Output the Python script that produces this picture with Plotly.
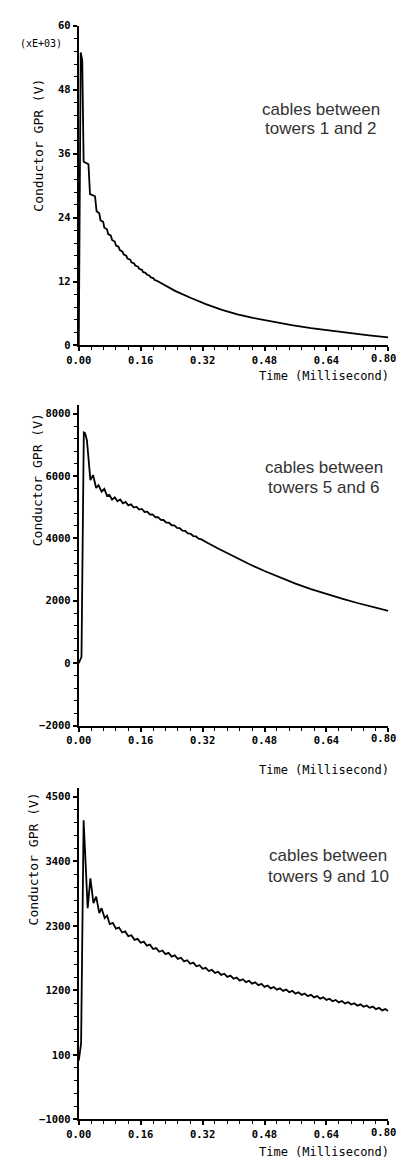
import plotly.graph_objects as go

W, H = 398, 1165

# ---------------- data ----------------
# Panel 1: cables between towers 1 and 2 (values in kV, axis shows xE+03)
t12 = [0, 0.003, 0.005, 0.009, 0.0125, 0.025, 0.029, 0.042, 0.046, 0.053, 0.056, 0.063,
       0.066, 0.073, 0.076, 0.083, 0.086, 0.093, 0.096, 0.103, 0.106, 0.113, 0.116, 0.123,
       0.126, 0.133, 0.136, 0.143, 0.146, 0.153, 0.156, 0.163, 0.166, 0.173, 0.176, 0.183,
       0.186, 0.193, 0.196, 0.203, 0.22, 0.25, 0.29, 0.33, 0.37, 0.41, 0.45, 0.50, 0.55,
       0.60, 0.65, 0.70, 0.75, 0.80]
v12_kV = [0, 25, 55, 53.5, 34.5, 34.0, 28.4, 28.0, 25.2, 24.8, 23.5, 23.2,
          22.1, 21.8, 20.9, 20.6, 19.8, 19.5, 18.8, 18.5, 17.9, 17.6, 17.1, 16.8,
          16.3, 16.1, 15.6, 15.4, 15.0, 14.8, 14.4, 14.2, 13.8, 13.6, 13.3, 13.1,
          12.8, 12.6, 12.3, 12.1, 11.4, 10.2, 8.9, 7.7, 6.7, 5.85, 5.18, 4.45, 3.82,
          3.27, 2.78, 2.33, 1.9, 1.5]

# Panel 2: cables between towers 5 and 6 (V)
t56 = [0, 0.007, 0.013, 0.016, 0.021, 0.030, 0.037, 0.045, 0.051, 0.059, 0.066, 0.073,
       0.079, 0.086, 0.093, 0.100, 0.107, 0.114, 0.121, 0.128, 0.135, 0.142, 0.149, 0.156,
       0.163, 0.170, 0.177, 0.184, 0.191, 0.198, 0.205, 0.212, 0.219, 0.226, 0.233, 0.240,
       0.247, 0.254, 0.261, 0.268, 0.275, 0.282, 0.289, 0.296, 0.303, 0.310, 0.317, 0.324,
       0.331, 0.36, 0.40, 0.44, 0.48, 0.52, 0.56, 0.60, 0.64, 0.68, 0.72, 0.76, 0.80]
v56 = [0, 200, 7400, 7380, 7150, 5870, 6030, 5620, 5710, 5500, 5590, 5365,
       5395, 5248, 5322, 5193, 5248, 5127, 5170, 5060, 5094, 4993, 5020, 4926,
       4948, 4850, 4860, 4765, 4771, 4680, 4682, 4596, 4593, 4510, 4505, 4424,
       4418, 4338, 4329, 4252, 4241, 4165, 4152, 4078, 4064, 3995, 3969, 3913,
       3873, 3680, 3420, 3180, 2955, 2745, 2550, 2375, 2215, 2068, 1930, 1800, 1680]

# Panel 3: cables between towers 9 and 10 (V)
t910 = [0, 0.006, 0.0125, 0.0175, 0.023, 0.030, 0.038, 0.045, 0.053, 0.059, 0.067, 0.073,
        0.080, 0.088, 0.096, 0.104, 0.112, 0.120, 0.128, 0.136, 0.144, 0.152,
        0.160, 0.168, 0.176, 0.184, 0.192, 0.200, 0.208, 0.216, 0.224, 0.232,
        0.240, 0.248, 0.256, 0.264, 0.272, 0.280, 0.288, 0.296, 0.304, 0.312,
        0.320, 0.328, 0.336, 0.344, 0.352, 0.360, 0.368, 0.376, 0.384, 0.392,
        0.400, 0.408, 0.416, 0.424, 0.432, 0.440, 0.448, 0.456, 0.464, 0.472,
        0.480, 0.488, 0.496, 0.504, 0.512, 0.520, 0.528, 0.536, 0.544, 0.552,
        0.560, 0.568, 0.576, 0.584, 0.592, 0.600, 0.608, 0.616, 0.624, 0.632,
        0.640, 0.648, 0.656, 0.664, 0.672, 0.680, 0.688, 0.696, 0.704, 0.712,
        0.720, 0.728, 0.736, 0.744, 0.752, 0.760, 0.768, 0.776, 0.784, 0.792,
        0.800]
v910 = [0, 300, 4100, 3300, 2600, 3108, 2685, 2798, 2516, 2600, 2431, 2472,
        2329, 2350, 2252, 2271, 2186, 2205, 2124, 2140, 2061, 2077,
        2011, 2030, 1961, 1979, 1904, 1921, 1858, 1879, 1817, 1838,
        1775, 1796, 1737, 1756, 1695, 1714, 1653, 1672, 1610, 1628,
        1567, 1584, 1529, 1550, 1496, 1517, 1463, 1484, 1430, 1451,
        1398, 1417, 1367, 1390, 1340, 1363, 1314, 1336, 1287, 1310,
        1260, 1283, 1234, 1258, 1212, 1235, 1190, 1213, 1168, 1191,
        1145, 1168, 1123, 1147, 1102, 1125, 1080, 1103, 1058, 1081,
        1037, 1058, 1015, 1037, 995, 1018, 976, 999, 958, 980,
        939, 962, 920, 943, 902, 923, 880, 902, 859, 881,
        849]

x_tickvals = [0, 0.16, 0.32, 0.48, 0.64, 0.80]
x_ticktext = ["0.00", "0.16", "0.32", "0.48", "0.64", ""]
last_x_label = "0.80"
panel_labels = [("cables between", "towers 1 and 2"),
                ("cables between", "towers 5 and 6"),
                ("cables between", "towers 9 and 10")]
x_title = "Time (Millisecond)"
y_title = "Conductor GPR (V)"
scale_note = "(xE+03)"

# ---------------- layout helpers ----------------
def px(x):
    return x / W

def py(y):
    return 1 - y / H

MONO = "DejaVu Sans Mono"
TICKFONT = dict(family=MONO, size=10.5, color="black", weight="bold")

fig = go.Figure()
for i, (t, v) in enumerate([(t12, v12_kV), (t56, v56), (t910, v910)]):
    sfx = "" if i == 0 else str(i + 1)
    fig.add_trace(go.Scatter(x=t, y=v, mode="lines", xaxis="x" + sfx, yaxis="y" + sfx,
                             line=dict(color="black", width=1.8), showlegend=False,
                             hoverinfo="skip"))

xdom = [px(68), px(388)]
panels = [
    (20, 343, [0, 60], 0, 12, 2.4),
    (403, 727, [-2000, 8286], -2000, 2000, 400),
    (790, 1125, [-1000, 4652], -1000, 1100, 220),
]

common_axis = dict(showline=True, linecolor="black", linewidth=2, showgrid=False,
                   zeroline=False, ticks="outside", ticklen=4, tickwidth=1.5,
                   tickcolor="black", tickfont=TICKFONT, mirror=False)

ann = []
for i, (ytop, ybot, yr, t0, dt, mdt) in enumerate(panels):
    sfx = "" if i == 0 else str(i + 1)
    fig.update_layout(**{
        "xaxis" + sfx: dict(common_axis, domain=xdom, range=[0, 0.8], tickmode="array",
                            tickvals=x_tickvals, ticktext=x_ticktext, anchor="y" + sfx,
                            minor=dict(ticks="outside", ticklen=3, tickwidth=1.2,
                                       tickcolor="black", tick0=0, dtick=0.032,
                                       showgrid=False)),
        "yaxis" + sfx: dict(common_axis, domain=[py(ybot), py(ytop)], range=yr, tick0=t0,
                            dtick=dt, exponentformat="none", separatethousands=False,
                            anchor="x" + sfx,
                            minor=dict(ticks="outside", ticklen=3, tickwidth=1.2,
                                       tickcolor="black", tick0=t0, dtick=mdt,
                                       showgrid=False)),
    })
    # last x tick label, kept inside the page (clipped in the original)
    ann.append(dict(x=px(398), y=py(ybot + 13), xref="paper", yref="paper",
                    text=last_x_label, showarrow=False, xanchor="right", yanchor="middle",
                    font=TICKFONT))

for (xc, yc) in [(26, 141), (25, 479), (21, 862)]:
    ann.append(dict(x=px(xc), y=py(yc), xref="paper", yref="paper", text=y_title,
                    textangle=-90, showarrow=False, xanchor="center", yanchor="middle",
                    font=dict(family=MONO, size=13, color="black")))
for yc in [374, 772, 1158]:
    ann.append(dict(x=px(391), y=py(yc), xref="paper", yref="paper", text=x_title,
                    showarrow=False, xanchor="right", yanchor="middle",
                    font=dict(family=MONO, size=12, color="black")))
ann.append(dict(x=px(29), y=py(38), xref="paper", yref="paper", text=scale_note,
                showarrow=False, xanchor="center", yanchor="middle",
                font=dict(family=MONO, size=10, color="black")))
for (l1, l2), (xc, y1, y2) in zip(panel_labels, [(318, 105, 124), (322, 466, 487), (326, 858, 880)]):
    for txt, yy in [(l1, y1), (l2, y2)]:
        ann.append(dict(x=px(xc), y=py(yy), xref="paper", yref="paper", text=txt,
                        showarrow=False, xanchor="center", yanchor="middle",
                        font=dict(family="Liberation Sans, Arial", size=17, color="#333333")))

fig.update_layout(width=W, height=H, margin=dict(l=0, r=0, t=0, b=0),
                  paper_bgcolor="white", plot_bgcolor="white", annotations=ann)

fig.write_html("out.html")
